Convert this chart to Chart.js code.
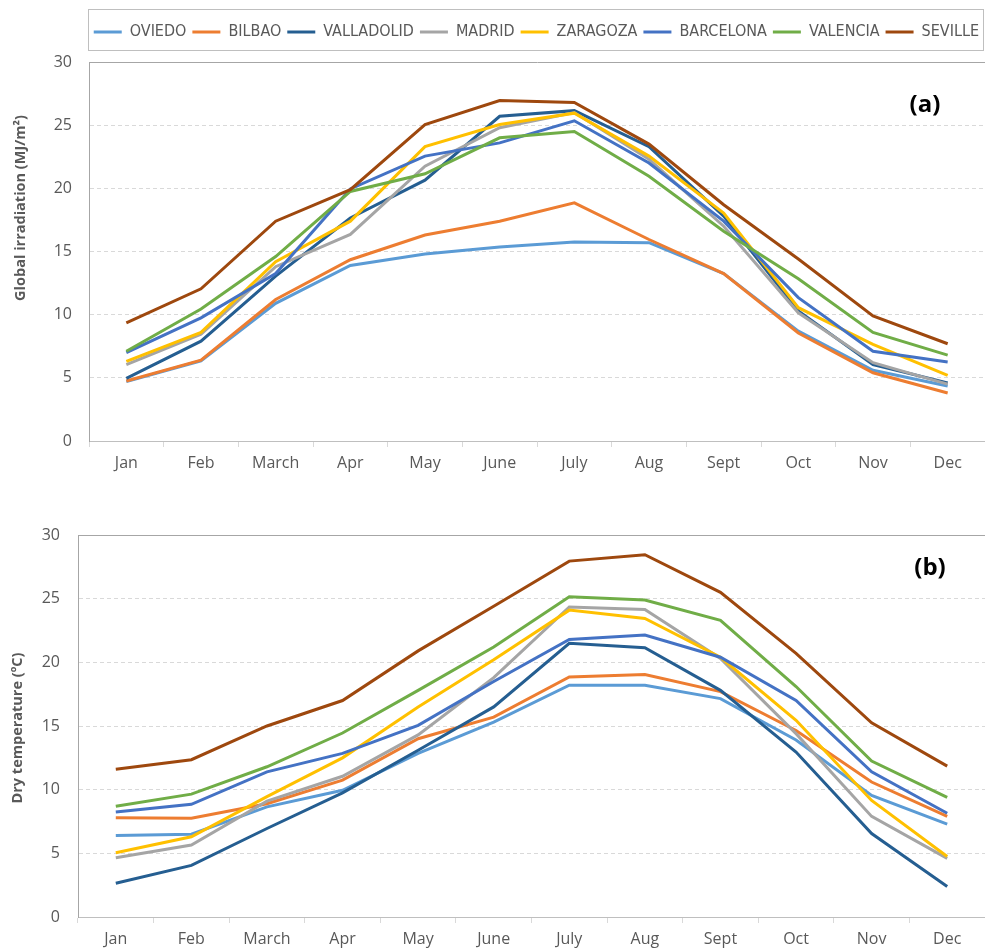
<!DOCTYPE html>
<html>
<head>
<meta charset="utf-8">
<script src="https://cdn.jsdelivr.net/npm/chart.js@4/dist/chart.umd.min.js"></script>
<style>
  body { margin: 0; background: #ffffff; }
  canvas { display: block; }
</style>
</head>
<body>
<canvas id="irradiation_chart" width="985" height="480"></canvas>
<canvas id="temperature_chart" width="985" height="470"></canvas>
<script>
const months = ["Jan", "Feb", "March", "Apr", "May", "June", "July", "Aug", "Sept", "Oct", "Nov", "Dec"];
const cities = ["OVIEDO", "BILBAO", "VALLADOLID", "MADRID", "ZARAGOZA", "BARCELONA", "VALENCIA", "SEVILLE"];
const city_colors = ["#5b9bd5", "#ed7d31", "#255e91", "#a5a5a5", "#ffc000", "#4472c4", "#70ad47", "#9e480e"];

// (a) global irradiation, MJ/m2
const irr_oviedo = [4.7, 6.35, 10.9, 13.9, 14.8, 15.35, 15.75, 15.7, 13.25, 8.7, 5.6, 4.35];
const irr_bilbao = [4.75, 6.4, 11.2, 14.35, 16.3, 17.4, 18.85, 15.95, 13.25, 8.55, 5.4, 3.8];
const irr_valladolid = [4.95, 7.9, 13.05, 17.65, 20.65, 25.7, 26.15, 23.3, 17.8, 10.3, 6.05, 4.6];
const irr_madrid = [6.05, 8.45, 13.8, 16.35, 21.75, 24.8, 26.0, 22.3, 17.0, 10.15, 6.2, 4.5];
const irr_zaragoza = [6.3, 8.6, 14.2, 17.4, 23.3, 25.05, 25.95, 22.55, 18.05, 10.55, 7.65, 5.2];
const irr_barcelona = [7.0, 9.75, 13.25, 19.95, 22.55, 23.6, 25.35, 22.0, 17.4, 11.35, 7.1, 6.25];
const irr_valencia = [7.1, 10.45, 14.6, 19.75, 21.15, 24.0, 24.5, 20.95, 16.6, 12.85, 8.6, 6.8];
const irr_seville = [9.35, 12.05, 17.4, 19.9, 25.05, 26.95, 26.8, 23.5, 18.7, 14.4, 9.9, 7.7];

// (b) dry temperature, ºC
const temp_oviedo = [6.4, 6.5, 8.65, 9.95, 12.85, 15.3, 18.2, 18.2, 17.15, 13.9, 9.55, 7.3];
const temp_bilbao = [7.8, 7.75, 8.9, 10.75, 14.0, 15.7, 18.85, 19.05, 17.7, 14.65, 10.6, 7.9];
const temp_valladolid = [2.65, 4.05, 6.95, 9.75, 13.1, 16.5, 21.5, 21.15, 17.8, 12.95, 6.55, 2.4];
const temp_madrid = [4.65, 5.65, 9.1, 11.05, 14.3, 18.8, 24.35, 24.15, 20.3, 14.4, 7.9, 4.6];
const temp_zaragoza = [5.05, 6.3, 9.45, 12.5, 16.5, 20.2, 24.1, 23.45, 20.4, 15.45, 9.15, 4.75];
const temp_barcelona = [8.25, 8.85, 11.4, 12.85, 15.05, 18.5, 21.8, 22.15, 20.4, 17.0, 11.4, 8.15];
const temp_valencia = [8.7, 9.65, 11.8, 14.45, 17.8, 21.2, 25.15, 24.9, 23.3, 18.1, 12.25, 9.4];
const temp_seville = [11.6, 12.35, 15.0, 17.0, 20.9, 24.4, 27.95, 28.45, 25.5, 20.7, 15.25, 11.85];

const irradiation = [irr_oviedo, irr_bilbao, irr_valladolid, irr_madrid, irr_zaragoza, irr_barcelona, irr_valencia, irr_seville];
const temperature = [temp_oviedo, temp_bilbao, temp_valladolid, temp_madrid, temp_zaragoza, temp_barcelona, temp_valencia, temp_seville];

const TICK_FONT = { family: "'Open Sans', sans-serif", size: 16 };
const TEXT_GRAY = "#595959";
const AXIS_GRAY = "#bfbfbf";

// rotated axis title, the (a)/(b) tag and the legend frame
const panel_text = {
  id: "panel_text",
  afterInit(chart, args, opts) {
    if (!chart.legend || !opts.legendExtra) return;
    const fit = chart.legend.fit;
    chart.legend.fit = function () {
      fit.call(this);
      this.height += opts.legendExtra;
    };
  },
  afterDraw(chart, args, opts) {
    const ctx = chart.ctx;
    ctx.save();
    ctx.fillStyle = TEXT_GRAY;
    ctx.font = "bold 14.5px 'Open Sans', sans-serif";
    ctx.textAlign = "center";
    ctx.textBaseline = "middle";
    ctx.translate(opts.titleX, opts.titleY);
    ctx.rotate(-Math.PI / 2);
    ctx.fillText(opts.title, 0, 0);
    ctx.restore();

    ctx.save();
    ctx.fillStyle = "#000000";
    ctx.font = "bold 24px 'Open Sans', sans-serif";
    ctx.textAlign = "center";
    ctx.textBaseline = "middle";
    ctx.fillText(opts.tag, opts.tagX, opts.tagY);
    ctx.restore();

    if (opts.frame) {
      ctx.save();
      ctx.strokeStyle = "#bfbfbf";
      ctx.lineWidth = 1;
      ctx.strokeRect(88.5, 9.5, 895, 41);
      ctx.restore();
    }
  },
};

function make_datasets(series) {
  return cities.map((name, i) => ({
    label: name,
    data: series[i],
    borderColor: city_colors[i],
    backgroundColor: city_colors[i],
    borderWidth: 3,
    pointRadius: 0,
    tension: 0,
    order: cities.length - i,
  }));
}

function make_chart(canvas, series, cfg) {
  return new Chart(canvas, {
    type: "line",
    data: { labels: months, datasets: make_datasets(series) },
    plugins: [panel_text],
    options: {
      responsive: false,
      animation: false,
      events: [],
      layout: { padding: { top: cfg.padTop, left: 0, right: 0, bottom: 0 } },
      scales: {
        x: {
          type: "category",
          offset: true,
          grid: { offset: true, drawOnChartArea: false, tickLength: 6, color: "#d9d9d9" },
          border: { color: AXIS_GRAY },
          ticks: { color: TEXT_GRAY, font: TICK_FONT, padding: 7, maxRotation: 0, autoSkip: false },
          afterFit: (s) => { s.height = cfg.xHeight; },
        },
        x_top: {
          type: "category",
          position: "top",
          display: true,
          offset: true,
          grid: { display: false },
          border: { color: "#a6a6a6" },
          ticks: { display: false },
          afterFit: (s) => { s.height = 0; },
        },
        y: {
          min: 0,
          max: 30,
          ticks: { stepSize: 5, color: TEXT_GRAY, font: TICK_FONT, padding: cfg.yPad },
          grid: {
            drawTicks: false,
            color: (c) => (c.tick && (c.tick.value === 0 || c.tick.value === 30)) ? "rgba(0,0,0,0)" : "#d9d9d9",
          },
          border: { color: "#a6a6a6", dash: [4, 3] },
          afterFit: (s) => { s.width = cfg.yWidth; },
        },
      },
      plugins: {
        tooltip: { enabled: false },
        legend: {
          display: cfg.legend,
          position: "top",
          align: "end",
          labels: {
            usePointStyle: true,
            pointStyle: "line",
            pointStyleWidth: 28,
            padding: 6,
            color: TEXT_GRAY,
            font: { family: "'Liberation Sans Narrow', 'DejaVu Sans Condensed', sans-serif", size: 16 },
            sort: (a, b) => a.datasetIndex - b.datasetIndex,
          },
        },
        panel_text: cfg.text,
      },
    },
  });
}

make_chart(document.getElementById("irradiation_chart"), irradiation, {
  padTop: 18,
  xHeight: 39,
  yWidth: 89,
  yPad: 17,
  legend: true,
  text: { title: "Global irradiation (MJ/m\u00b2)", titleX: 21, titleY: 208, tag: "(a)", tagX: 925, tagY: 105, frame: true, legendExtra: 12 },
});

make_chart(document.getElementById("temperature_chart"), temperature, {
  padTop: 55,
  xHeight: 33,
  yWidth: 78,
  yPad: 18,
  legend: false,
  text: { title: "Dry temperature (\u00baC)", titleX: 18, titleY: 248, tag: "(b)", tagX: 930, tagY: 88, frame: false, legendExtra: 0 },
});
</script>
</body>
</html>
